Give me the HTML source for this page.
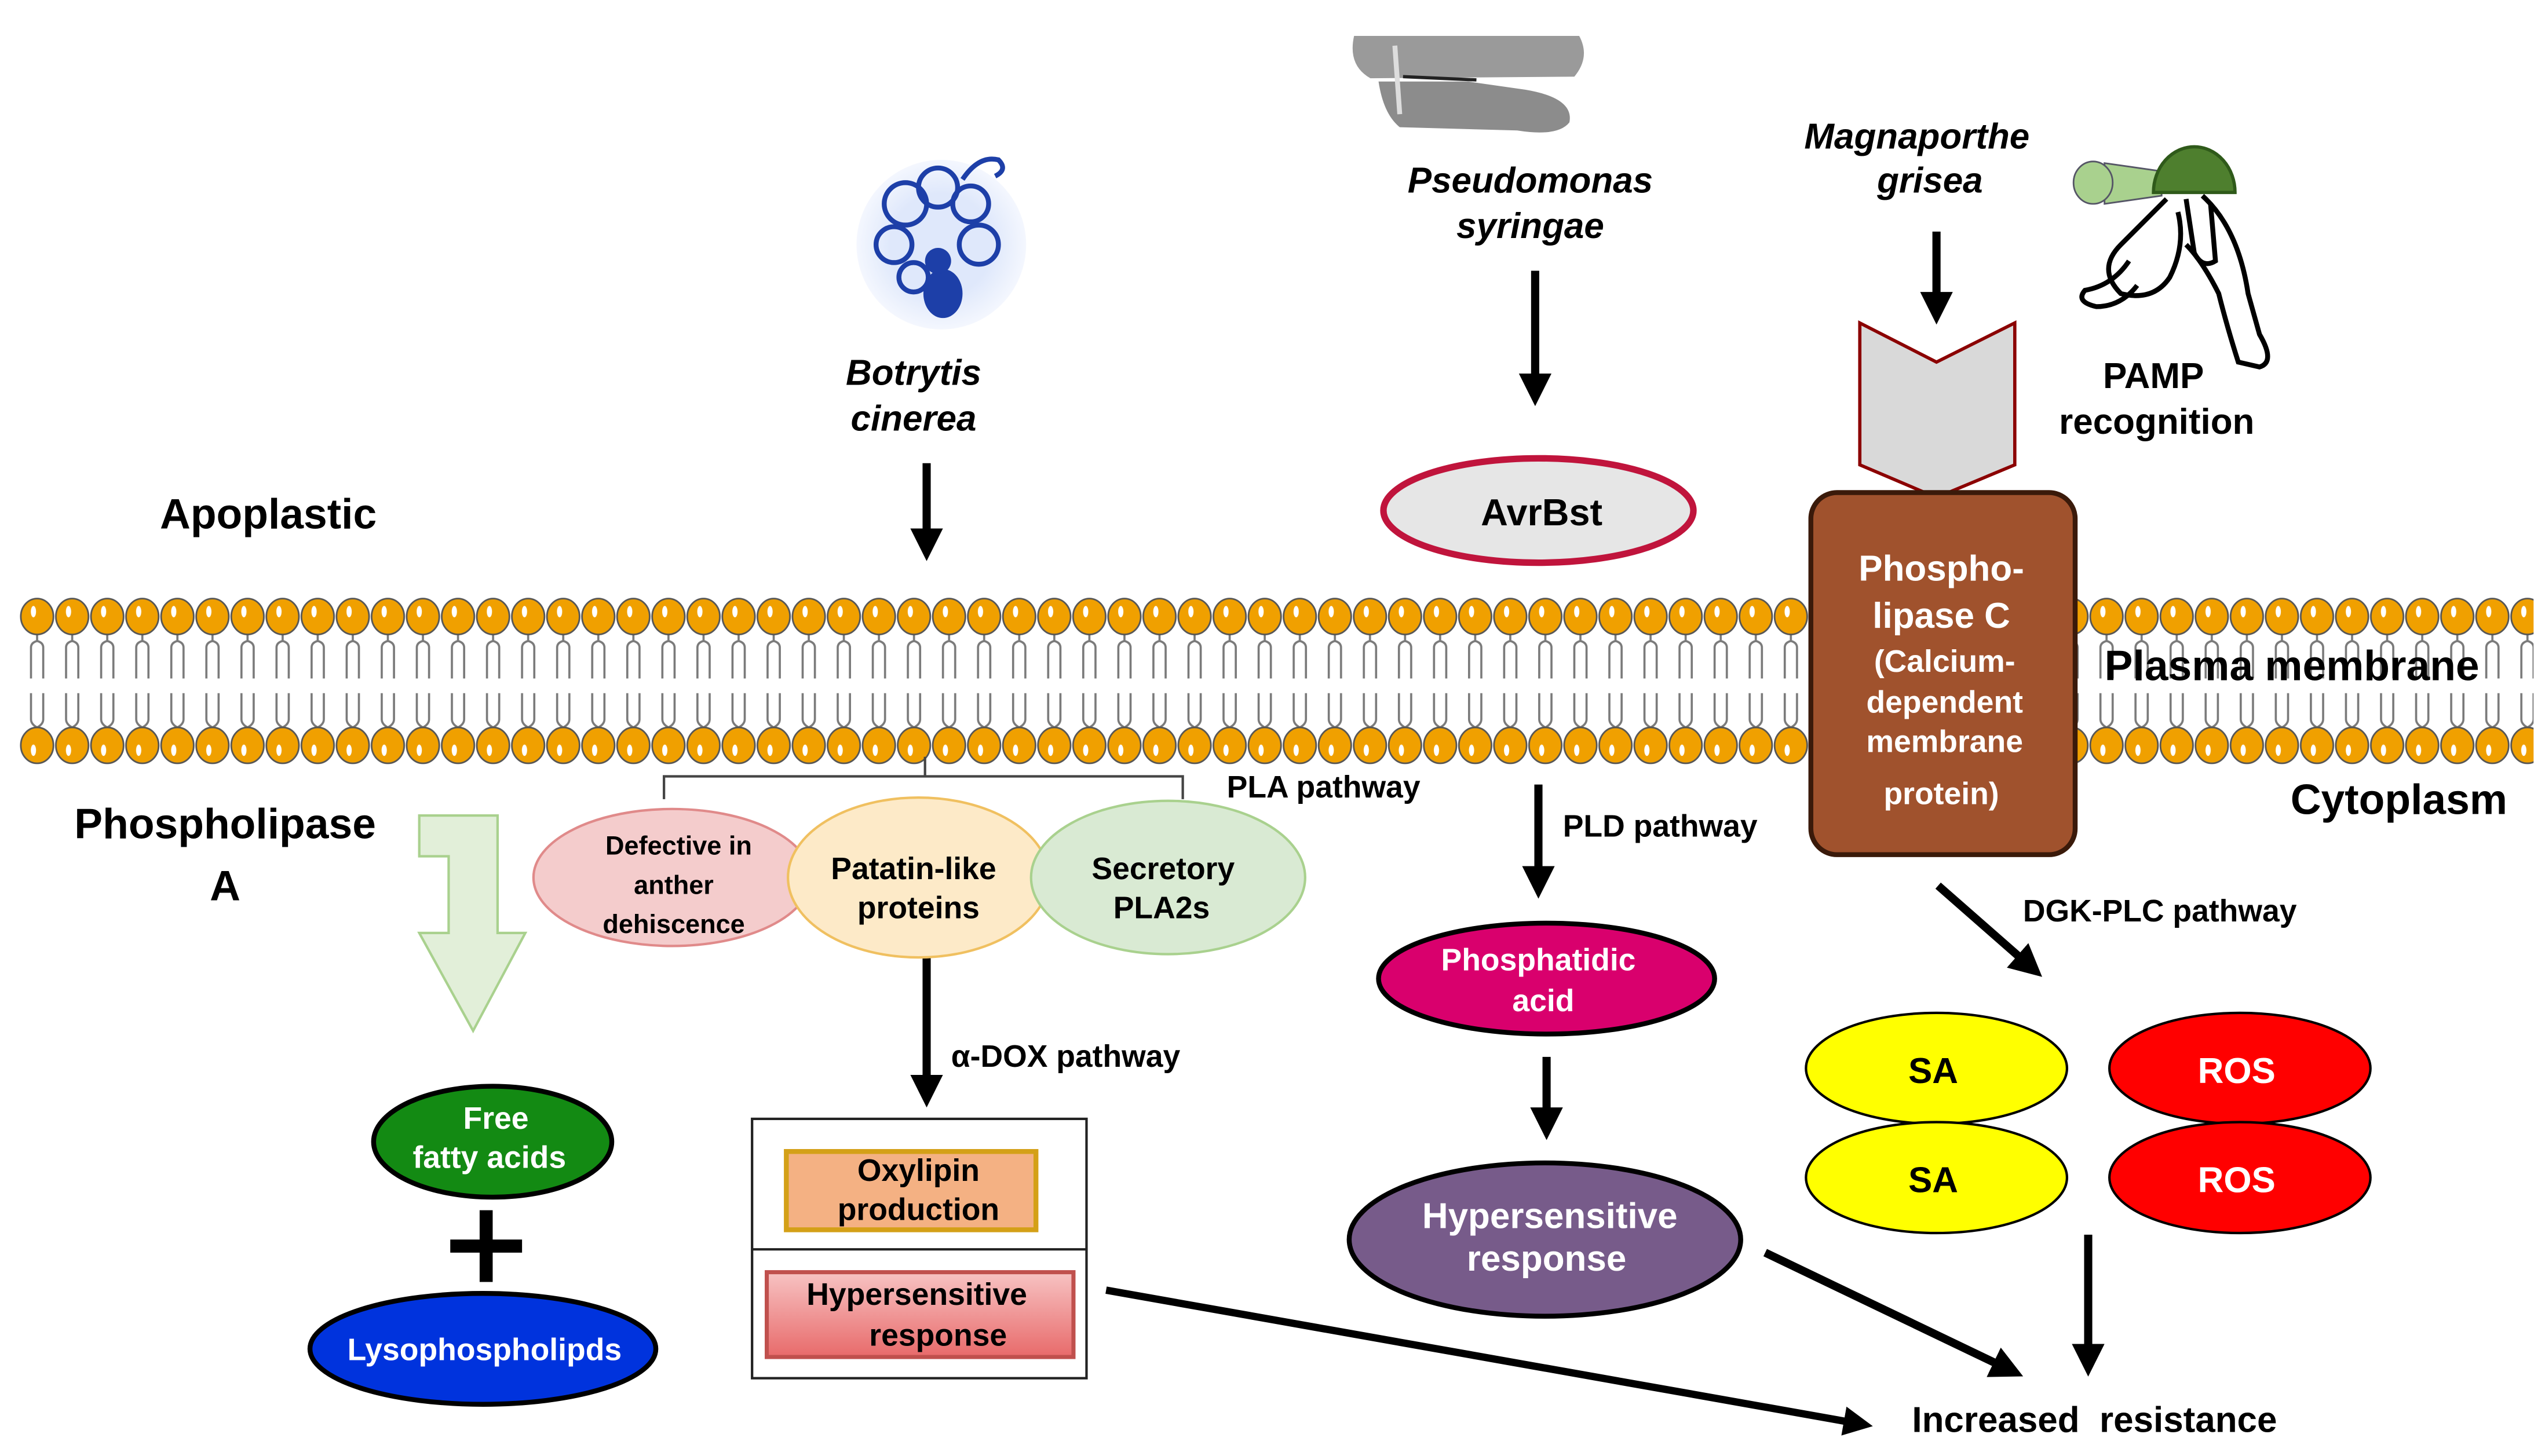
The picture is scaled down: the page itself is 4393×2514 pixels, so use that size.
<!DOCTYPE html>
<html><head><meta charset="utf-8"><style>
html,body{margin:0;padding:0;background:#fff;}
svg{display:block;}
text{font-family:"Liberation Sans",Arial,sans-serif;font-weight:bold;}
</style></head><body>
<svg width="4393" height="2514" viewBox="0 0 1560 892.7" preserveAspectRatio="none" xmlns="http://www.w3.org/2000/svg">
<defs>
<pattern id="lip" patternUnits="userSpaceOnUse" x="12" y="365" width="21.5" height="105">
 <g fill="none" stroke="#7a7a7a" stroke-width="1.3">
  <path d="M10.75 24 V28 M10.75 28 Q7 29 7 32 V51 M10.75 28 Q14.5 29 14.5 32 V51"/>
  <path d="M7 60 V76 Q7 79 10.75 81 Q14.5 79 14.5 76 V60 M10.75 81 V84"/>
 </g>
 <ellipse cx="10.75" cy="13" rx="10" ry="11" fill="#f0a000" stroke="#555" stroke-width="1"/>
 <ellipse cx="8.5" cy="10" rx="1.6" ry="3.5" fill="#fff"/>
 <ellipse cx="10.75" cy="92" rx="10" ry="11" fill="#f0a000" stroke="#555" stroke-width="1"/>
 <ellipse cx="8.5" cy="95" rx="1.6" ry="3.5" fill="#fff"/>
</pattern>
<marker id="ah" markerWidth="4" markerHeight="4" refX="2.2" refY="2" orient="auto" markerUnits="strokeWidth">
 <path d="M0 0 L4 2 L0 4 Z" fill="#000"/>
</marker>
<linearGradient id="hr" x1="0" y1="0" x2="0" y2="1"><stop offset="0" stop-color="#f7c3c3"/><stop offset="1" stop-color="#e86a6a"/></linearGradient>
<radialGradient id="bot" cx="0.5" cy="0.5" r="0.5"><stop offset="0.6" stop-color="#dfe8fb"/><stop offset="1" stop-color="#f4f7fe"/></radialGradient>
</defs>

<!-- membrane -->
<rect x="12" y="365" width="1097" height="105" fill="url(#lip)"/>
<rect x="1270" y="365" width="283" height="105" fill="url(#lip)"/>

<!-- Botrytis icon -->
<circle cx="577" cy="150" r="52" fill="url(#bot)"/>
<g fill="none" stroke="#1d3fa8" stroke-width="3">
 <circle cx="555" cy="125" r="13"/><circle cx="575" cy="115" r="12"/><circle cx="595" cy="125" r="11"/>
 <circle cx="548" cy="150" r="11"/><circle cx="600" cy="150" r="12"/><circle cx="560" cy="170" r="9"/>
 <path d="M590 110 Q600 95 612 98 Q618 104 610 108"/>
</g>
<ellipse cx="578" cy="180" rx="12" ry="15" fill="#1d3fa8"/>
<circle cx="575" cy="160" r="8" fill="#1d3fa8"/>

<!-- Pseudomonas image -->
<path d="M830 22 Q826 40 840 48 L965 47 Q975 35 968 22 Z" fill="#9a9a9a"/>
<path d="M845 50 L900 50 L935 55 Q965 60 962 75 Q955 84 930 80 L858 78 Q848 70 845 50Z" fill="#8c8c8c"/>
<path d="M855 28 L858 70" stroke="#ddd" stroke-width="3"/>
<path d="M860 47 L905 49" stroke="#222" stroke-width="2"/>

<!-- Magnaporthe icon -->
<path d="M1290 100 L1325 105 L1325 120 L1290 125 Z" fill="#a9d18e" stroke="#556" stroke-width="1"/>
<ellipse cx="1283" cy="112" rx="12" ry="13" fill="#a9d18e" stroke="#556" stroke-width="1"/>
<path d="M1320 118 A25 28 0 0 1 1370 118 Z" fill="#4e7f2e" stroke="#2f5a1a" stroke-width="2"/>
<g fill="none" stroke="#000" stroke-width="3">
 <path d="M1328 122 Q1310 140 1300 150 Q1285 165 1300 180 Q1320 185 1330 170 Q1340 150 1335 130"/>
 <path d="M1340 122 L1345 155 Q1350 165 1358 160 L1355 125"/>
 <path d="M1350 120 Q1372 140 1378 180 L1385 205 Q1395 222 1385 225 L1372 222 Q1365 200 1360 180 Q1350 160 1340 150"/>
 <path d="M1305 160 Q1295 175 1278 178 Q1272 185 1285 188 Q1300 188 1310 175"/>
</g>

<!-- texts top -->
<text x="98" y="324" font-size="26">Apoplastic</text>
<text x="560" y="236" font-size="22" font-style="italic" text-anchor="middle">Botrytis</text>
<text x="560" y="264" font-size="22" font-style="italic" text-anchor="middle">cinerea</text>
<text x="938" y="118" font-size="22" font-style="italic" text-anchor="middle">Pseudomonas</text>
<text x="938" y="146" font-size="22" font-style="italic" text-anchor="middle">syringae</text>
<text x="1175" y="91" font-size="22" font-style="italic" text-anchor="middle">Magnaporthe</text>
<text x="1183" y="118" font-size="22" font-style="italic" text-anchor="middle">grisea</text>
<text x="1320" y="238" font-size="22" text-anchor="middle">PAMP</text>
<text x="1322" y="266" font-size="22" text-anchor="middle">recognition</text>

<!-- arrows -->
<g stroke="#000" stroke-width="5" fill="none" marker-end="url(#ah)">
 <line x1="568" y1="284" x2="568" y2="335"/>
 <line x1="941" y1="166" x2="941" y2="240"/>
 <line x1="1187" y1="142" x2="1187" y2="190"/>
 <line x1="943" y1="481" x2="943" y2="542"/>
 <line x1="568" y1="583" x2="568" y2="670"/>
 <line x1="948" y1="648" x2="948" y2="690"/>
 <line x1="1188" y1="543" x2="1245" y2="593"/>
 <line x1="1280" y1="757" x2="1280" y2="835"/>
 <line x1="1082" y1="768" x2="1232" y2="840"/>
 <line x1="678" y1="791" x2="1140" y2="873" stroke-width="4.5"/>
</g>

<!-- AvrBst -->
<ellipse cx="943" cy="313" rx="95" ry="32" fill="#e6e6e6" stroke="#c0143c" stroke-width="4"/>
<text x="945" y="322" font-size="23" text-anchor="middle">AvrBst</text>

<!-- chevron receptor -->
<path d="M1140 198 L1187 222 L1235 198 L1235 285 L1187 305 L1140 285 Z" fill="#d9d9d9" stroke="#8b0000" stroke-width="2"/>

<!-- PLC -->
<rect x="1110" y="302" width="162" height="222" rx="16" fill="#a0522d" stroke="#3a1a0a" stroke-width="3"/>
<g fill="#fff" text-anchor="middle">
 <text x="1190" y="356" font-size="22">Phospho-</text>
 <text x="1190" y="385" font-size="22">lipase  C</text>
 <text x="1192" y="412" font-size="19">(Calcium-</text>
 <text x="1192" y="437" font-size="19">dependent</text>
 <text x="1192" y="461" font-size="19">membrane</text>
 <text x="1190" y="493" font-size="19">protein)</text>
</g>
<text x="1290" y="417" font-size="26">Plasma membrane</text>
<text x="1404" y="499" font-size="26">Cytoplasm</text>

<!-- bracket -->
<path d="M407 490 V476 H725 V490 M567 476 V464" fill="none" stroke="#444" stroke-width="1.5"/>
<text x="752" y="489" font-size="19">PLA pathway</text>

<!-- PLA ellipses -->
<ellipse cx="412" cy="538" rx="85" ry="42" fill="#f4cccc" stroke="#e08a8a" stroke-width="1.5"/>
<ellipse cx="563" cy="538" rx="80" ry="49" fill="#fdeac8" stroke="#f0c060" stroke-width="1.5"/>
<ellipse cx="716" cy="538" rx="84" ry="47" fill="#d9ead3" stroke="#a9d18e" stroke-width="1.5"/>
<g text-anchor="middle">
 <text x="416" y="524" font-size="16">Defective  in</text>
 <text x="413" y="548" font-size="16">anther</text>
 <text x="413" y="572" font-size="16">dehiscence</text>
 <text x="560" y="539" font-size="19">Patatin-like</text>
 <text x="563" y="563" font-size="19">proteins</text>
 <text x="713" y="539" font-size="19">Secretory</text>
 <text x="712" y="563" font-size="19">PLA2s</text>
</g>

<text x="138" y="514" font-size="26" text-anchor="middle">Phospholipase</text>
<text x="138" y="552" font-size="26" text-anchor="middle">A</text>

<!-- green bent arrow -->
<path d="M257 500 H305 V572 H322 L290 632 L257 572 H275 V525 H257 Z" fill="#e2efd9" stroke="#a9d18e" stroke-width="1.5"/>

<text x="583" y="654" font-size="19">α-DOX pathway</text>

<!-- box -->
<rect x="461" y="686" width="205" height="159" fill="#fff" stroke="#222" stroke-width="1.5"/>
<line x1="461" y1="766" x2="666" y2="766" stroke="#222" stroke-width="1.5"/>
<rect x="482" y="706" width="153" height="48" fill="#f4b183" stroke="#d4a017" stroke-width="3"/>
<text x="563" y="724" font-size="19" text-anchor="middle">Oxylipin</text>
<text x="563" y="748" font-size="19" text-anchor="middle">production</text>
<rect x="470" y="780" width="188" height="52" fill="url(#hr)" stroke="#c0504d" stroke-width="2.5"/>
<text x="562" y="800" font-size="19" text-anchor="middle">Hypersensitive</text>
<text x="575" y="825" font-size="19" text-anchor="middle">response</text>

<!-- free fatty acids -->
<ellipse cx="302" cy="700" rx="73" ry="34" fill="#138a13" stroke="#000" stroke-width="3"/>
<text x="304" y="692" font-size="19" fill="#fff" text-anchor="middle">Free</text>
<text x="300" y="716" font-size="19" fill="#fff" text-anchor="middle">fatty acids</text>
<path d="M298 742 V786 M276 764 H320" stroke="#000" stroke-width="8"/>
<ellipse cx="296" cy="827" rx="106" ry="34" fill="#0033dd" stroke="#000" stroke-width="3"/>
<text x="297" y="834" font-size="19" fill="#fff" text-anchor="middle">Lysophospholipds</text>

<!-- PLD -->
<text x="958" y="513" font-size="19">PLD pathway</text>
<ellipse cx="948" cy="600" rx="103" ry="34" fill="#d9006d" stroke="#000" stroke-width="3"/>
<text x="943" y="595" font-size="19" fill="#fff" text-anchor="middle">Phosphatidic</text>
<text x="946" y="620" font-size="19" fill="#fff" text-anchor="middle">acid</text>
<ellipse cx="947" cy="760" rx="120" ry="47" fill="#775b8a" stroke="#000" stroke-width="3"/>
<text x="950" y="753" font-size="22" fill="#fff" text-anchor="middle">Hypersensitive</text>
<text x="948" y="779" font-size="22" fill="#fff" text-anchor="middle">response</text>

<!-- DGK-PLC -->
<text x="1240" y="565" font-size="19">DGK-PLC pathway</text>
<ellipse cx="1187" cy="655" rx="80" ry="34" fill="#ffff00" stroke="#000" stroke-width="1.5"/>
<ellipse cx="1187" cy="722" rx="80" ry="34" fill="#ffff00" stroke="#000" stroke-width="1.5"/>
<ellipse cx="1373" cy="655" rx="80" ry="34" fill="#ff0000" stroke="#000" stroke-width="1.5"/>
<ellipse cx="1373" cy="722" rx="80" ry="34" fill="#ff0000" stroke="#000" stroke-width="1.5"/>
<text x="1185" y="664" font-size="22" text-anchor="middle">SA</text>
<text x="1185" y="731" font-size="22" text-anchor="middle">SA</text>
<text x="1371" y="664" font-size="22" fill="#fff" text-anchor="middle">ROS</text>
<text x="1371" y="731" font-size="22" fill="#fff" text-anchor="middle">ROS</text>

<text x="1172" y="878" font-size="22" xml:space="preserve">Increased  resistance</text>
</svg>
</body></html>
